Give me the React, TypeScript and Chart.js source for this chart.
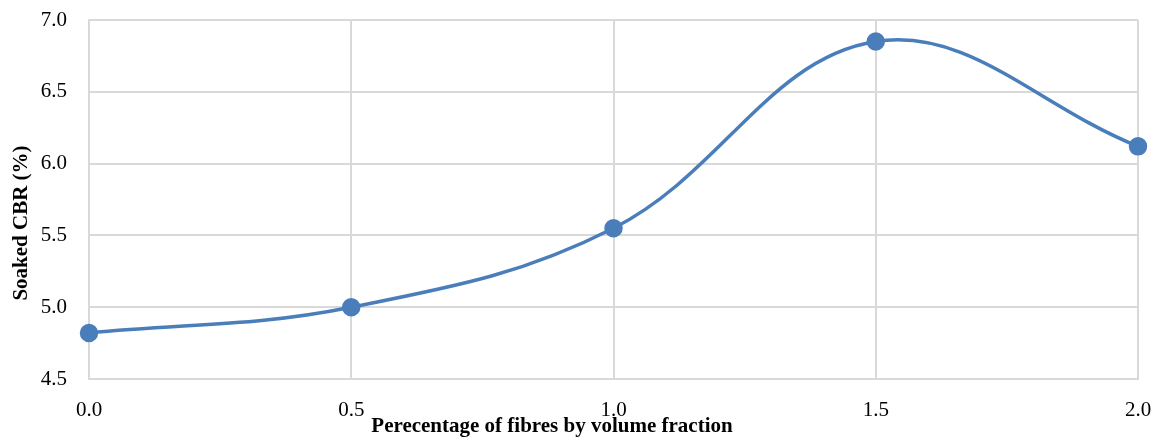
import React, { useEffect, useRef } from "react";
import { Chart, registerables } from "chart.js";

Chart.register(...registerables);

const fibreFraction = [0.0, 0.5, 1.0, 1.5, 2.0];
const soakedCBR = [4.82, 5.0, 5.55, 6.85, 6.12];
const xTitle = "Perecentage of fibres by volume fraction";
const yTitle = "Soaked CBR (%)";

const FAMILY = "'Liberation Serif', 'Times New Roman', serif";

const axisTitles = {
  id: "axisTitles",
  afterDraw(chart: any) {
    const ctx = chart.ctx;
    ctx.save();
    ctx.fillStyle = "#000";
    ctx.font = `bold 21px ${FAMILY}`;
    ctx.textAlign = "center";
    ctx.textBaseline = "middle";
    ctx.fillText(xTitle, 552, 427);
    ctx.translate(22, 223);
    ctx.rotate(-Math.PI / 2);
    ctx.fillText(yTitle, 0, 0);
    ctx.restore();
  },
};

export default function App() {
  const ref = useRef<HTMLCanvasElement | null>(null);
  useEffect(() => {
    if (!ref.current) return;
    const chart = new Chart(ref.current, {
      type: "line",
      data: {
        datasets: [
          {
            data: fibreFraction.map((x, i) => ({ x, y: soakedCBR[i] })),
            borderColor: "#4a7ebb",
            backgroundColor: "#4a7ebb",
            borderWidth: 3.5,
            pointRadius: 7.5,
            pointHoverRadius: 7.5,
            tension: 0.38,
            fill: false,
            clip: false,
          },
        ],
      },
      plugins: [axisTitles],
      options: {
        responsive: false,
        animation: false,
        layout: { padding: { top: 20, right: 18, left: 0, bottom: 0 } },
        plugins: { legend: { display: false }, tooltip: { enabled: false } },
        scales: {
          x: {
            type: "linear",
            min: 0,
            max: 2,
            afterFit: (s: any) => {
              s.height = 58;
              s.paddingLeft = 0;
              s.paddingRight = 0;
            },
            ticks: {
              stepSize: 0.5,
              padding: 19,
              color: "#000",
              font: { family: FAMILY, size: 21 },
              callback: (v: any) => Number(v).toFixed(1),
              maxRotation: 0,
            },
            grid: { color: "#d9d9d9", lineWidth: 2, drawTicks: false },
            border: { color: "#d9d9d9", width: 2 },
            title: { display: false, text: xTitle },
          },
          y: {
            min: 4.5,
            max: 7.0,
            afterFit: (s: any) => {
              s.width = 89;
              s.paddingTop = 0;
              s.paddingBottom = 0;
            },
            ticks: {
              stepSize: 0.5,
              padding: 22,
              color: "#000",
              font: { family: FAMILY, size: 21 },
              callback: (v: any) => Number(v).toFixed(1),
            },
            grid: { color: "#d9d9d9", lineWidth: 2, drawTicks: false },
            border: { color: "#d9d9d9", width: 2 },
            title: { display: false, text: yTitle },
          },
        },
      },
    });
    return () => chart.destroy();
  }, []);
  return (
    <div style={{ position: "fixed", left: 0, top: 0, width: 1156, height: 437, background: "#fff" }}>
      <canvas ref={ref} width={1156} height={437} style={{ width: 1156, height: 437 }} />
    </div>
  );
}
